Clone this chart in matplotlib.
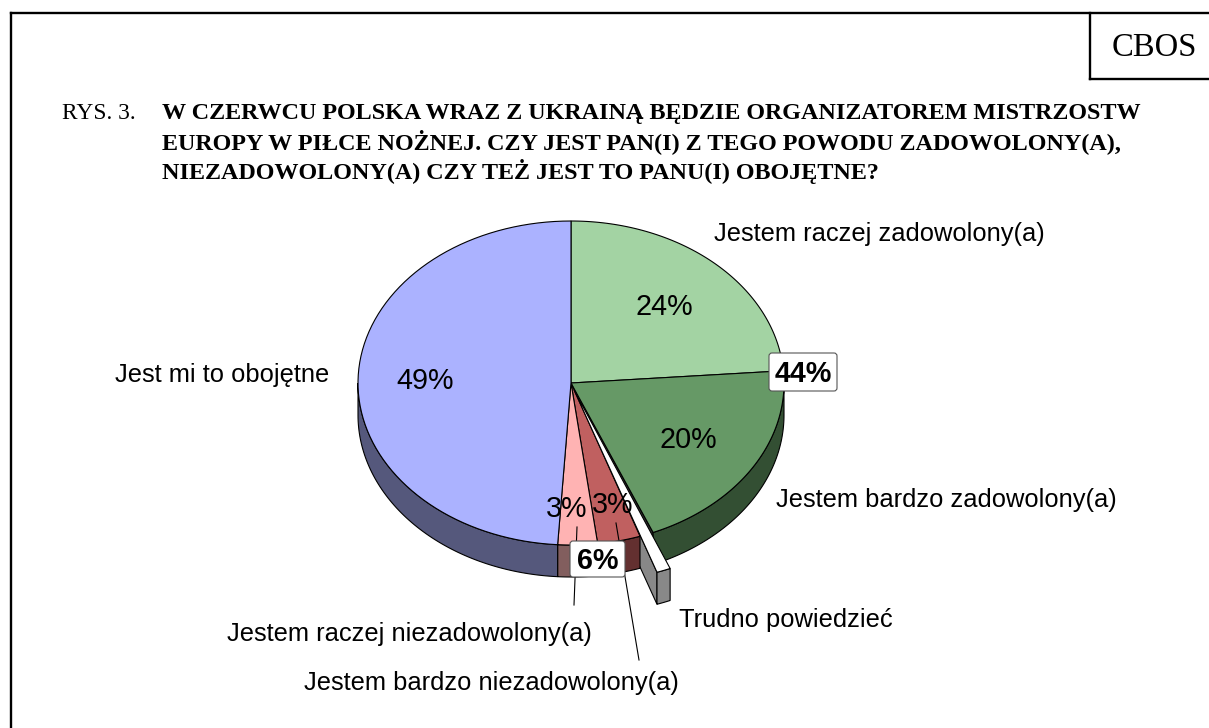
import numpy as np
import matplotlib
matplotlib.use("Agg")
import matplotlib.pyplot as plt
from matplotlib.patches import Polygon, FancyBboxPatch

# Survey answers, clockwise from the top of the pie
answers = ["Jestem raczej zadowolony(a)", "Jestem bardzo zadowolony(a)", "Trudno powiedzieć",
           "Jestem bardzo niezadowolony(a)", "Jestem raczej niezadowolony(a)", "Jest mi to obojętne"]
# slice sizes, the printed labels are rounded
values = [23.8, 19.9, 1.05, 3.25, 3.0, 49.0]
shown = ["24%", "20%", "", "3%", "3%", "49%"]
group_labels = ["44%", "6%"]

top_colors = ["#A3D3A3", "#669966", "#FFFFFF", "#C06060", "#FFB3B3", "#ABB2FF"]
side_colors = ["#516951", "#334F33", "#888888", "#633030", "#825E5E", "#55587C"]

title_lines = ["W CZERWCU POLSKA WRAZ Z UKRAINĄ BĘDZIE ORGANIZATOREM MISTRZOSTW",
               "EUROPY W PIŁCE NOŻNEJ. CZY JEST PAN(I) Z TEGO POWODU ZADOWOLONY(A),",
               "NIEZADOWOLONY(A) CZY TEŻ JEST TO PANU(I) OBOJĘTNE?"]

# pie geometry in pixels
cx, cy = 571, 383
rx, ry = 213, 162
depth = 32
# the cut-out slice: rim moves further than the tip
explode_rim = (17, 36)
explode_tip = (3, 7)

fig = plt.figure(figsize=(12.09, 7.28), dpi=100)
ax = fig.add_axes([0, 0, 1, 1])
ax.set_xlim(0, 1209)
ax.set_ylim(728, 0)
ax.axis("off")

SANS = "Liberation Sans"
SERIF = "Liberation Serif"


def arc(a0, a1, dx=0, dy=0):
    t = np.radians(np.linspace(a0, a1, 80))
    return np.column_stack([cx + dx + rx * np.sin(t), cy + dy - ry * np.cos(t)])


def side_face(a0, a1, color, z=2):
    # only the part of the rim facing the viewer
    a0, a1 = max(a0, 90), min(a1, 270)
    if a1 <= a0:
        return
    upper = arc(a0, a1)
    lower = arc(a1, a0, 0, depth)
    ax.add_patch(Polygon(np.vstack([upper, lower]), closed=True, fc=color, ec="black", lw=0.8, zorder=z))


# frame, open at the bottom and right
for xs, ys in [([11, 11], [12.5, 728]), ([11, 1209], [12.5, 12.5]),
               ([1090, 1090], [12.5, 78.5]), ([1090, 1209], [78.5, 78.5])]:
    ax.plot(xs, ys, color="black", lw=1.7, solid_capstyle="projecting", zorder=1)
ax.text(1154, 48, "CBOS", family=SERIF, fontsize=23.5, ha="center", va="center", zorder=6)

# title
ax.text(62, 119, "RYS. 3.", family=SERIF, fontsize=16.8, va="baseline", zorder=6)
for line, y in zip(title_lines, [119, 149, 178.5]):
    ax.text(162, y, line, family=SERIF, fontsize=17.35, weight="bold", va="baseline", zorder=6)

# slice angles from the values
edges = np.cumsum([0] + values) * 360.0 / sum(values)

# wall of the green slice and cut face of the exploded one, both under the pie
a0, a1 = edges[2], edges[3]
corner = arc(a0, a0)[0]
wall = [(cx, cy), corner, corner + [0, depth], (cx, cy + depth)]
ax.add_patch(Polygon(wall, closed=True, fc="#333333", ec="black", lw=0.8, zorder=1.5))

rim = arc(a0, a1, *explode_rim)
tip = np.array([cx + explode_tip[0], cy + explode_tip[1]])
cut = [tip, rim[-1], rim[-1] + [0, depth], tip + [0, depth]]
ax.add_patch(Polygon(cut, closed=True, fc=side_colors[2], ec="black", lw=0.8, zorder=1.6))

# main pie, green rim goes behind the cut face
for i in range(len(values)):
    if i != 2:
        side_face(edges[i], edges[i + 1], side_colors[i], z=1.55 if i == 1 else 2)
for i in range(len(values)):
    if i != 2:
        pts = np.vstack([[cx, cy], arc(edges[i], edges[i + 1])])
        ax.add_patch(Polygon(pts, closed=True, fc=top_colors[i], ec="black", lw=0.8, zorder=3))

# rim and top of the exploded slice
side_poly = np.vstack([rim, (rim + [0, depth])[::-1]])
ax.add_patch(Polygon(side_poly, closed=True, fc=side_colors[2], ec="black", lw=0.8, zorder=3.3))
ax.add_patch(Polygon(np.vstack([tip, rim]), closed=True, fc=top_colors[2], ec="black", lw=0.8, zorder=3.4))

# leader lines
ax.plot([577, 574], [527, 605], color="black", lw=0.8, zorder=4)
ax.plot([616, 639], [523, 660], color="black", lw=0.8, zorder=4)

# percent labels
pct_pos = [(664, 307), (688, 440), None, (613, 505), (567, 509), (425, 381)]
for txt, pos in zip(shown, pct_pos):
    if pos is not None:
        ax.text(pos[0], pos[1], txt, family=SANS, fontsize=20.7, ha="center", va="center", zorder=6)

# summed labels in white boxes
boxes = [(769, 353, 68, 38), (570, 541, 55, 36)]
for txt, (x, y, w, h) in zip(group_labels, boxes):
    ax.add_patch(FancyBboxPatch((x + 2, y + 2), w - 4, h - 4, boxstyle="round,pad=2,rounding_size=3",
                                fc="white", ec="#555555", lw=0.8, zorder=5))
    ax.text(x + w / 2, y + h / 2 + 2, txt, family=SANS, fontsize=20.7, weight="bold",
            ha="center", va="center", zorder=6)

# category labels
label_pos = [(714, 234), (776, 500), (679, 620), (304, 683), (227, 634), (115, 375)]
for name, (x, y) in zip(answers, label_pos):
    ax.text(x, y, name, family=SANS, fontsize=18.4, va="center", zorder=6)

fig.savefig("out.png", dpi=100)
